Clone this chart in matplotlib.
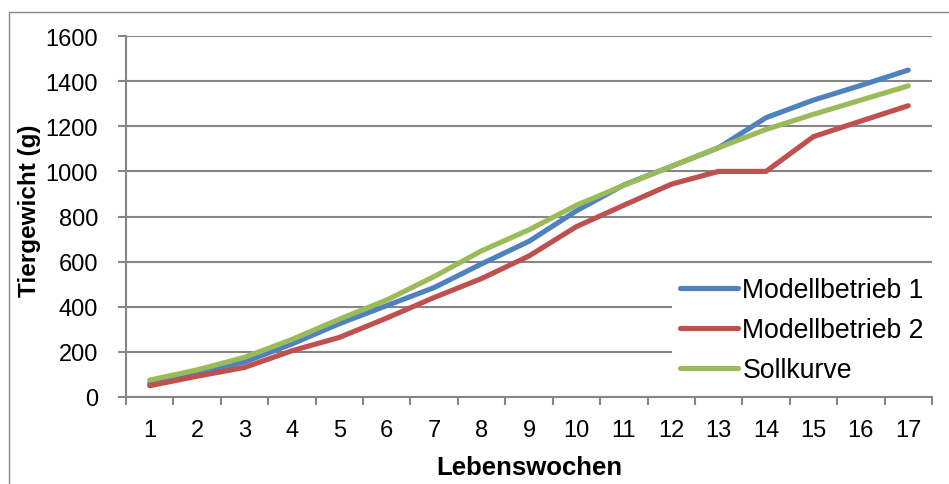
import matplotlib
matplotlib.use("Agg")
import matplotlib.pyplot as plt
from matplotlib.patches import Rectangle

weeks = list(range(1, 18))
week_labels = [str(w) for w in weeks]
modell1 = [60, 105, 155, 235, 325, 405, 485, 590, 690, 825, 940, 1022, 1105, 1238, 1316, 1381, 1449]
modell2 = [50, 92, 131, 205, 264, 350, 441, 525, 625, 755, 850, 943, 1000, 1000, 1154, 1223, 1291]
soll = [75, 120, 176, 255, 345, 430, 534, 648, 741, 850, 938, 1022, 1105, 1186, 1253, 1316, 1379]
series_names = ["Modellbetrieb 1", "Modellbetrieb 2", "Sollkurve"]
y_ticks = [0, 200, 400, 600, 800, 1000, 1200, 1400, 1600]

plt.rcParams['font.family'] = ['Liberation Sans', 'DejaVu Sans']

W, H = 949, 485
fig = plt.figure(figsize=(W / 100, H / 100), dpi=100)
fig.patch.set_facecolor("white")

# outer chart frame
fig.patches.append(Rectangle((9 / W, -0.1), 1.2, (H - 13) / H + 0.1, transform=fig.transFigure,
                             fill=False, edgecolor="#868686", linewidth=1.0))

ax = fig.add_axes([126 / W, (H - 398) / H, (932 - 126) / W, (398 - 37) / H])

gray = "#868686"
lw = 3.7
ax.plot(weeks, modell1, color="#4F81BD", lw=lw, solid_capstyle="round", label=series_names[0], zorder=3)
ax.plot(weeks, modell2, color="#C0504D", lw=lw, solid_capstyle="round", label=series_names[1], zorder=3)
ax.plot(weeks, soll, color="#9BBB59", lw=lw, solid_capstyle="round", label=series_names[2], zorder=3)

ax.set_xlim(0.5, 17.5)
ax.set_ylim(0, 1600)
ax.set_yticks(y_ticks)
ax.set_yticklabels([str(v) for v in y_ticks])
ax.set_xticks(weeks)
ax.set_xticklabels(week_labels)
ax.set_xticks([w + 0.5 for w in [0] + weeks], minor=True)

ax.grid(axis="y", color=gray, linewidth=1.5, zorder=0)
ax.set_axisbelow(True)
for s in ["top", "right"]:
    ax.spines[s].set_visible(False)
for s in ["left", "bottom"]:
    ax.spines[s].set_color(gray)
    ax.spines[s].set_linewidth(1.5)

ax.tick_params(axis="y", which="major", length=6, width=1.5, color=gray, pad=14, labelsize=17)
ax.tick_params(axis="x", which="major", length=0, pad=16, labelsize=17)
ax.tick_params(axis="x", which="minor", length=6, width=1.5, color=gray)

ax.set_xlabel("Lebenswochen", fontsize=18.5, fontweight="bold")
ax.xaxis.set_label_coords(0.5, -0.16)
ax.set_ylabel("Tiergewicht (g)", fontsize=17.5, fontweight="bold")
ax.yaxis.set_label_coords(-0.105, 0.52)

leg = ax.legend(loc="lower right", bbox_to_anchor=(1.0, 0.016), fontsize=19.2,
                frameon=True, facecolor="white", edgecolor="none", framealpha=1,
                handlelength=2.2, handletextpad=0.15, labelspacing=0.52,
                borderpad=0.3, borderaxespad=0.0)
leg.get_frame().set_boxstyle("square", pad=0.0)

fig.savefig("out.png", dpi=100, facecolor="white")
